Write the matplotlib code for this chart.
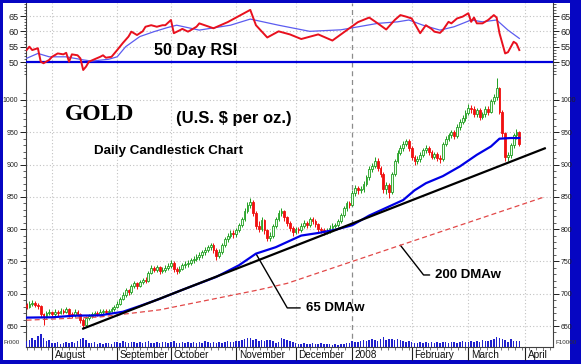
import numpy as np
import pandas as pd
import matplotlib
matplotlib.use("Agg")
import matplotlib.pyplot as plt
import matplotlib.transforms as mtransforms
from matplotlib.patches import Rectangle
from matplotlib.ticker import FixedLocator, MultipleLocator, NullFormatter

plt.rcParams['font.family'] = ['Liberation Sans', 'DejaVu Sans']

# ---------------- data ----------------
holidays = ['2007-09-03', '2007-11-22', '2007-12-25', '2008-01-01',
            '2008-01-21', '2008-02-18', '2008-03-21']
first_date = '2007-07-19'
last_axis_date = '2008-04-18'
first_open = 682

close = [680, 684, 686, 683, 681, 668, 665, 670, 672,
         668, 672, 670, 674, 672, 676, 668, 667, 672, 668, 660, 652, 663, 665, 668, 670, 669, 672, 674, 671, 673, 676, 680,
         684, 692, 698, 705, 702, 712, 716, 712, 718, 721, 720, 732, 740, 737, 741, 735, 737, 740, 743,
         748, 738, 735, 739, 744, 746, 748, 752, 754, 757, 760, 764, 768, 772, 775, 768, 758, 765, 776, 784, 790, 794, 792,
         798, 806, 815, 828, 838, 842, 825, 805, 800, 814, 798, 786, 790, 805, 815, 825, 828, 818, 810, 802, 796,
         800, 798, 805, 810, 806, 815, 812, 808, 800, 798, 795, 797, 802, 805, 806, 812, 822, 832, 840, 838,
         856, 864, 860, 862, 870, 880, 893, 898, 906, 895, 885, 862, 868, 858, 885, 905, 918, 926, 932, 936, 926,
         912, 905, 908, 915, 922, 926, 920, 912, 916, 910, 908, 932, 940, 945, 950, 944, 958, 966, 972, 980,
         988, 986, 978, 984, 974, 978, 986, 982, 998, 1004, 1018, 982, 948, 912, 915, 930, 945, 950, 932]

high = [686, 688, 690, 689, 685, 682, 670, 673, 676,
        674, 676, 675, 678, 677, 680, 678, 672, 676, 675, 670, 662, 666, 669, 671, 674, 673, 676, 677, 676, 677, 680, 683,
        688, 695, 702, 709, 708, 715, 720, 718, 721, 725, 726, 735, 744, 743, 745, 743, 741, 744, 748,
        752, 750, 741, 743, 747, 750, 752, 756, 758, 761, 764, 768, 772, 776, 779, 778, 770, 769, 779, 788, 794, 799, 798,
        802, 810, 819, 832, 842, 848, 845, 828, 812, 818, 816, 800, 795, 808, 819, 829, 833, 830, 820, 812, 805,
        804, 804, 809, 814, 813, 818, 818, 815, 810, 804, 801, 801, 806, 809, 810, 815, 825, 836, 844, 844,
        860, 868, 867, 866, 874, 884, 897, 903, 912, 910, 898, 888, 873, 871, 888, 909, 922, 930, 936, 940, 939,
        929, 915, 913, 919, 926, 930, 929, 923, 920, 919, 914, 935, 944, 949, 954, 953, 962, 970, 976, 984,
        993, 992, 990, 988, 987, 982, 990, 991, 1002, 1009, 1034, 1020, 985, 950, 920, 933, 949, 955, 952]

low = [677, 678, 681, 680, 676, 664, 652, 662, 667,
       664, 665, 666, 668, 669, 670, 664, 662, 664, 665, 655, 647, 650, 660, 662, 665, 665, 667, 669, 668, 669, 671, 674,
       678, 682, 690, 695, 698, 700, 709, 708, 710, 715, 716, 718, 730, 733, 734, 731, 732, 734, 737,
       740, 734, 730, 732, 736, 740, 742, 745, 748, 750, 752, 756, 760, 764, 767, 763, 752, 755, 762, 772, 780, 786, 787,
       788, 795, 803, 812, 825, 832, 820, 800, 795, 797, 793, 782, 782, 787, 802, 812, 820, 813, 805, 797, 790,
       792, 794, 795, 802, 802, 803, 808, 804, 796, 794, 791, 792, 794, 799, 801, 803, 809, 819, 828, 833,
       836, 852, 855, 856, 858, 866, 876, 889, 894, 890, 880, 856, 855, 848, 855, 882, 902, 914, 921, 928, 921,
       907, 900, 901, 904, 911, 918, 915, 908, 908, 906, 903, 906, 928, 936, 941, 939, 941, 954, 962, 968,
       976, 980, 973, 974, 969, 970, 974, 977, 979, 994, 1000, 978, 943, 905, 906, 910, 926, 940, 928]

volume = [60, 75, 90, 70, 110, 130, 95, 60, 70,
          45, 40, 50, 35, 45, 55, 40, 50, 45, 60, 80, 95, 70, 45, 40, 50, 35, 40, 30, 45, 40, 35, 50,
          55, 45, 60, 50, 45, 55, 50, 40, 55, 45, 50, 60, 45, 40, 50, 45, 55, 50, 45,
          50, 60, 45, 40, 55, 45, 50, 40, 55, 45, 50, 45, 60, 50, 40, 55, 45, 50, 45, 55, 60, 50, 55,
          60, 65, 70, 85, 95, 90, 75, 80, 65, 70, 60, 75, 70, 60, 40, 55, 95, 80, 70, 60, 55,
          40, 35, 30, 40, 35, 30, 45, 35, 30, 40, 30, 35, 30, 25, 35, 20, 30, 35, 40, 45,
          60, 55, 50, 65, 70, 60, 75, 85, 70, 60, 80, 100, 75, 85, 80, 70, 85, 75, 60, 55, 65,
          50, 45, 40, 55, 45, 50, 40, 55, 45, 50, 40, 55, 50, 45, 55, 50, 45, 55, 60, 50,
          55, 60, 50, 65, 55, 70, 60, 65, 75, 85, 100, 90, 80, 70, 55, 85, 60, 65, 60]

ma65_dates = ['2007-07-19', '2007-08-01', '2007-08-13', '2007-08-24', '2007-08-28', '2007-09-06',
              '2007-09-14', '2007-09-25', '2007-10-05', '2007-10-23', '2007-11-02', '2007-11-12',
              '2007-11-21', '2007-11-28', '2007-12-05', '2007-12-13', '2007-12-21', '2008-01-02',
              '2008-01-10', '2008-01-18', '2008-01-29', '2008-02-04', '2008-02-08', '2008-02-19',
              '2008-02-27', '2008-03-06', '2008-03-13', '2008-03-18', '2008-03-25', '2008-03-28']
ma65_vals = [663, 663.5, 666, 666.5, 668, 672, 681, 692, 706, 726, 744, 762, 772, 780, 790, 794, 799,
             806, 821, 833, 845, 860, 871, 882, 897, 915, 928, 940, 941, 941]

ma200_dates = ['2007-07-19', '2007-08-24', '2007-09-25', '2007-11-13', '2007-11-28', '2008-01-28', '2008-04-10']
ma200_vals = [659, 664, 675, 706, 716, 775, 850]

trend_dates = ['2007-08-16', '2008-04-10']
trend_vals = [646, 925]

rsi_dates = ['2007-07-19', '2007-07-20', '2007-07-23', '2007-07-25', '2007-07-26', '2007-07-27', '2007-07-31',
             '2007-08-01', '2007-08-03', '2007-08-07', '2007-08-08', '2007-08-09', '2007-08-10', '2007-08-14',
             '2007-08-15', '2007-08-16', '2007-08-17', '2007-08-20', '2007-08-22', '2007-08-24', '2007-08-27',
             '2007-08-28', '2007-08-30', '2007-09-04', '2007-09-06', '2007-09-10', '2007-09-11', '2007-09-13',
             '2007-09-17', '2007-09-18', '2007-09-20', '2007-09-24', '2007-09-26', '2007-09-27', '2007-10-01',
             '2007-10-02', '2007-10-04', '2007-10-05', '2007-10-09', '2007-10-10', '2007-10-12', '2007-10-15',
             '2007-10-22', '2007-10-29', '2007-11-06', '2007-11-08', '2007-11-12', '2007-11-16', '2007-11-23',
             '2007-11-29', '2007-12-05', '2007-12-13', '2007-12-20', '2007-12-31', '2008-01-04', '2008-01-10',
             '2008-01-15', '2008-01-18', '2008-01-24', '2008-01-28', '2008-01-30', '2008-02-01', '2008-02-05',
             '2008-02-06', '2008-02-08', '2008-02-12', '2008-02-13', '2008-02-15', '2008-02-19', '2008-02-21',
             '2008-02-22', '2008-02-26', '2008-02-28', '2008-03-03', '2008-03-04', '2008-03-05', '2008-03-06',
             '2008-03-10', '2008-03-12', '2008-03-14', '2008-03-17', '2008-03-18', '2008-03-20', '2008-03-24',
             '2008-03-26', '2008-03-27', '2008-03-28']
rsi_vals = [53.9, 55.0, 53.9, 54.5, 50.1, 49.6, 50.7,
            51.7, 52.8, 52.5, 53.0, 50.1, 52.5, 52.2,
            51.2, 47.4, 48.5, 50.1, 50.9, 51.7, 52.2,
            51.4, 51.7, 53.9, 56.2, 58.3, 59.9, 58.8,
            60.0, 61.5, 62.0, 61.5, 62.0, 62.0, 63.7,
            59.4, 60.3, 60.8, 59.9, 60.4, 61.5, 62.6,
            61.0, 63.0, 66.0, 67.0, 62.0, 58.0, 60.0,
            59.0, 57.5, 59.0, 57.0, 61.0, 63.0, 64.5,
            62.6, 60.6, 63.7, 65.3, 64.8, 64.2, 61.0,
            59.4, 62.0, 60.8, 59.9, 59.5, 60.4, 63.1,
            62.6, 64.2, 64.8, 65.9, 63.1, 64.5, 62.6,
            62.6, 63.7, 65.3, 64.5, 59.4, 52.8, 53.2,
            56.6, 56.0, 53.9]

rsi_avg_dates = ['2007-07-19', '2007-07-25', '2007-07-31', '2007-08-08', '2007-08-16', '2007-08-21',
                 '2007-08-29', '2007-09-04', '2007-09-07', '2007-09-14', '2007-09-21', '2007-09-28',
                 '2007-10-03', '2007-10-15', '2007-10-30', '2007-11-08', '2007-11-23', '2007-12-10',
                 '2007-12-26', '2008-01-15', '2008-01-25', '2008-01-31', '2008-02-07', '2008-02-15',
                 '2008-02-25', '2008-03-04', '2008-03-10', '2008-03-17', '2008-03-24', '2008-03-28']
rsi_avg_vals = [51.2, 52.8, 51.7, 51.7, 50.7, 50.3, 50.9, 51.7, 55.0, 58.3, 59.9, 61.3,
                62.0, 60.4, 62.0, 64.0, 62.0, 60.0, 60.5, 62.6, 63.1, 63.7, 62.0, 60.4,
                61.5, 63.7, 63.1, 63.7, 60.4, 57.7]

month_dates = ['2007-08-01', '2007-09-04', '2007-10-01', '2007-11-01', '2007-12-03',
               '2008-01-02', '2008-02-01', '2008-03-03', '2008-04-01']
month_labels = ['August', 'September', 'October', 'November', 'December',
                '2008', 'February', 'March', 'April']
price_ticks = [650, 700, 750, 800, 850, 900, 950, 1000]
rsi_ticks = [50, 55, 60, 65]

# ---------------- calendar / positions ----------------
cal = pd.bdate_range(first_date, last_axis_date, freq='C', holidays=holidays)


def pos(dates):
    return cal.get_indexer(pd.to_datetime(dates)).astype(float)


n = len(close)
xd = np.arange(n)
c = np.array(close, float)
o = np.concatenate([[first_open], c[:-1]])
hi = np.maximum(np.array(high, float), np.maximum(o, c))
lo = np.minimum(np.array(low, float), np.minimum(o, c))

# ---------------- figure ----------------
W, H = 581, 364
fig = plt.figure(figsize=(W / 100, H / 100), dpi=100)
BORDER = '#0606c2'
fig.patch.set_facecolor(BORDER)
fig.add_artist(Rectangle((3 / W, 1 - 360 / H), 567 / W, 357 / H, transform=fig.transFigure,
                         facecolor='white', edgecolor='none', zorder=-10))


def fy(py):
    return 1 - py / H


rect = [26 / W, 1 - 347 / H, 527 / W, 344 / H]
ax = fig.add_axes(rect)
ax.set_xlim(-0.2, 185.9)
ax.set_ylim(617.5, 1150)

# grid
ax.yaxis.set_major_locator(FixedLocator(price_ticks))
ax.yaxis.set_minor_locator(FixedLocator(list(range(640, 1011, 10))))
ax.grid(axis='y', which='major', linestyle=(0, (1, 2)), color='#c2c2c2', lw=0.8, zorder=0)
mpos = pos(month_dates)
for lab, p in zip(month_labels, mpos):
    if lab == '2008':
        ax.axvline(p, linestyle=(0, (4, 3)), color='#8c8c8c', lw=0.9, zorder=0.5)
    else:
        ax.axvline(p, linestyle=(0, (1, 2)), color='#c2c2c2', lw=0.8, zorder=0.5)

# candles
up = c >= o
col_up_edge, col_up_face, col_dn = '#1e9e1e', '#eaffea', '#f01010'
wick_cols = np.where(up, col_up_edge, col_dn)
ax.vlines(xd, lo, hi, colors=wick_cols, lw=0.7, zorder=2)
body_bot = np.minimum(o, c)
body_h = np.maximum(np.abs(c - o), 1.0)
ax.bar(xd[up], body_h[up], bottom=body_bot[up], width=0.62, facecolor=col_up_face,
       edgecolor=col_up_edge, lw=0.6, zorder=3)
ax.bar(xd[~up], body_h[~up], bottom=body_bot[~up], width=0.62, facecolor=col_dn,
       edgecolor=col_dn, lw=0.6, zorder=3)

# moving averages and trend line
ax.plot(pos(ma200_dates), ma200_vals, color='#e24848', lw=0.9, dashes=(4, 2.5), zorder=4)
ax.plot(pos(ma65_dates), ma65_vals, color='#0000e6', lw=1.6, zorder=5)
ax.plot(pos(trend_dates), trend_vals, color='black', lw=1.6, zorder=6)

# annotations
ma65_anchor = (pos(['2007-11-12'])[0], 762)
ax.annotate('65 DMAw', xy=ma65_anchor, xytext=(98.6, 678), fontsize=9.5, fontweight='bold',
            ha='left', va='center', color='black',
            arrowprops=dict(arrowstyle='-', color='black', lw=1.0, shrinkA=2, shrinkB=0,
                            relpos=(0, 0.5), connectionstyle='angle,angleA=0,angleB=-60,rad=0'))
ma200_anchor = (pos(['2008-01-28'])[0], 775)
ax.annotate('200 DMAw', xy=ma200_anchor, xytext=(144.3, 729), fontsize=9.5, fontweight='bold',
            ha='left', va='center', color='black',
            arrowprops=dict(arrowstyle='-', color='black', lw=1.0, shrinkA=2, shrinkB=0,
                            relpos=(0, 0.5), connectionstyle='angle,angleA=0,angleB=-52,rad=0'))

# axes styling
for side in ('left', 'right', 'bottom'):
    ax.spines[side].set_color('#404040')
    ax.spines[side].set_linewidth(0.8)
ax.spines['top'].set_visible(False)
ax.tick_params(axis='y', which='both', left=True, right=True, labelleft=True, labelright=True,
               direction='out', colors='#202020', labelsize=5, pad=1.5)
ax.tick_params(axis='y', which='major', length=4, width=0.7)
ax.tick_params(axis='y', which='minor', length=2, width=0.5)
ax.xaxis.set_major_locator(FixedLocator(mpos))
ax.xaxis.set_minor_locator(MultipleLocator(2.5))
ax.xaxis.set_major_formatter(NullFormatter())
ax.tick_params(axis='x', which='major', direction='out', length=9.5, width=0.8, color='#202020')
ax.tick_params(axis='x', which='minor', direction='out', length=2.5, width=0.5, color='#404040')

trans_lab = mtransforms.blended_transform_factory(ax.transData, fig.transFigure)
for lab, p in zip(month_labels, mpos):
    ax.text(p + 0.9, fy(355.5), lab, transform=trans_lab, ha='left', va='center',
            fontsize=7.2, color='#101010')

# ---------------- RSI overlay ----------------
rs = fig.add_axes(rect, sharex=ax)
rs.set_facecolor('none')
for s in rs.spines.values():
    s.set_visible(False)
rs.set_ylim(-42.9, 69.24)
rs.yaxis.set_major_locator(FixedLocator(rsi_ticks))
rs.yaxis.set_minor_locator(FixedLocator(list(range(46, 70))))
rs.tick_params(axis='y', which='both', left=True, right=True, labelleft=True, labelright=True,
               direction='out', colors='#202020', labelsize=6.5, pad=1.5)
rs.tick_params(axis='y', which='major', length=4, width=0.7)
rs.tick_params(axis='y', which='minor', length=1.8, width=0.5)
rs.tick_params(axis='x', which='both', bottom=False, top=False, labelbottom=False)
for lv in rsi_ticks[1:]:
    rs.axhline(lv, linestyle=(0, (1, 2)), color='#c2c2c2', lw=0.8, zorder=0)
rs.axhline(50, color='#0000dc', lw=1.6, zorder=2)
rs.plot(pos(rsi_avg_dates), rsi_avg_vals, color='#5c5cf0', lw=0.9, zorder=3)
rs.plot(pos(rsi_dates), rsi_vals, color='#e8101e', lw=1.4, zorder=4)
fig.text(154 / W, fy(51), '50 Day RSI', fontsize=11.5, fontweight='bold', ha='left', va='center')

# ---------------- volume overlay ----------------
vx = fig.add_axes(rect, sharex=ax)
vx.set_facecolor('none')
for s in vx.spines.values():
    s.set_visible(False)
vx.set_ylim(0, 3440)
vx.bar(xd, volume, width=0.55, color='#2020cc', zorder=2)
vx.tick_params(axis='both', which='both', left=False, right=False, bottom=False, top=False,
               labelleft=False, labelbottom=False)
fig.text(3 / W, fy(342), 'Fr000', fontsize=4.5, ha='left', va='center', color='#303030')
fig.text(555 / W, fy(342), 'F10000', fontsize=4.5, ha='left', va='center', color='#303030')

# ---------------- titles ----------------
fig.text(100 / W, fy(114), 'GOLD', family=['Liberation Serif', 'DejaVu Serif'], fontsize=17,
         fontweight='bold', ha='center', va='center')
fig.text(234 / W, fy(119), '(U.S. $ per oz.)', fontsize=12, fontweight='bold', ha='center', va='center')
fig.text(168 / W, fy(151), 'Daily Candlestick Chart', fontsize=9.6, fontweight='bold',
         ha='center', va='center')

fig.savefig('out.png', dpi=100, facecolor=fig.get_facecolor())
